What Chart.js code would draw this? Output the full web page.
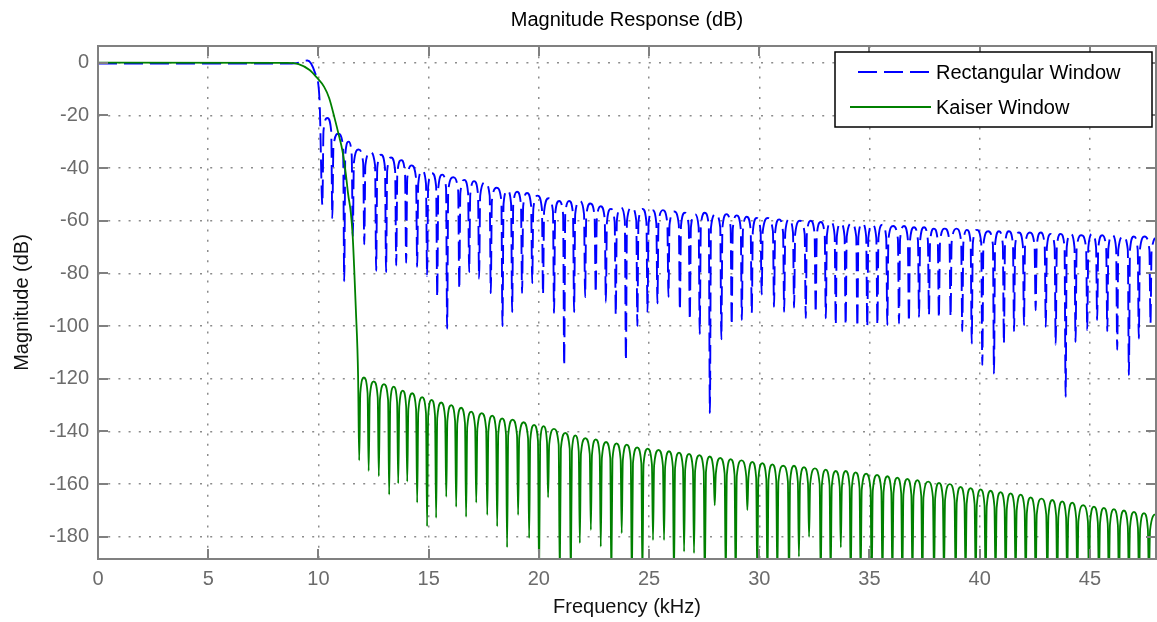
<!DOCTYPE html>
<html>
<head>
<meta charset="utf-8">
<title>Magnitude Response (dB)</title>
<script src="https://cdn.jsdelivr.net/npm/chart.js@4.4.1/dist/chart.umd.min.js"></script>
<style>
  html, body { margin: 0; padding: 0; background: #fff; }
  #wrap { width: 1157px; height: 622px; position: relative; }
</style>
</head>
<body>
<div id="wrap"><canvas id="chart"></canvas></div>
<script>
// magnitude response, rectangular vs kaiser window
const FONT = '"Liberation Sans", Arial, Helvetica, sans-serif';

const xTicks = [0, 5, 10, 15, 20, 25, 30, 35, 40, 45];
const yTicks = [0, -20, -40, -60, -80, -100, -120, -140, -160, -180];
const xMin = 0, xMax = 48;
const yMin = -188.4, yMax = 6.3;

// rectangular window: passband + start of transition (kHz, dB)
const rectPassFreq = [0, 8.5, 9.0, 9.5, 9.85, 10.05];
const rectPassDb = [-0.4, -0.4, -0.2, 0.8, -4, -14];

// rectangular window stopband: null positions, null depth, lobe level after each null
const rectNullFreq = [10.18, 10.63, 11.17, 11.56, 12.08, 12.62, 13.07, 13.53, 13.98, 14.48,
  14.93, 15.39, 15.84, 16.39, 16.84, 17.29, 17.82, 18.35, 18.79, 19.24,
  19.70, 20.19, 20.69, 21.15, 21.60, 22.10, 22.58, 23.04, 23.49, 23.95,
  24.47, 24.93, 25.38, 25.88, 26.40, 26.85, 27.30, 27.76, 28.28, 28.75,
  29.21, 29.66, 30.11, 30.67, 31.13, 31.58, 32.11, 32.56, 33.02, 33.47,
  33.92, 34.45, 34.90, 35.36, 35.81, 36.34, 36.79, 37.25, 37.70, 38.15,
  38.68, 39.21, 39.64, 40.12, 40.65, 41.10, 41.56, 42.01, 42.54, 43.00,
  43.45, 43.90, 44.35, 44.88, 45.33, 45.79, 46.24, 46.77, 47.22, 47.75];
const rectNullDb = [-54, -59, -83, -66, -69, -79, -79.5, -77, -76, -77.5,
  -81, -89, -101, -86, -79.5, -82, -87.5, -100, -94.7, -87.5,
  -83.7, -88, -95, -115, -94.7, -89, -87.5, -91, -95.8, -113,
  -100, -94.6, -91.4, -88.9, -94, -97.7, -103, -133, -105, -99.6,
  -97.7, -95, -88, -92.7, -94.6, -93, -97, -95, -97, -99.6,
  -99.6, -100.3, -100.3, -99.6, -99.6, -99, -98.4, -96.5, -95.8, -97,
  -96.5, -102, -106.6, -114.8, -118, -106.6, -102, -99.6, -94, -100.3,
  -107, -126.8, -106, -101.5, -97.7, -102, -109, -118.6, -104.7, -99];
const rectPeakDb = [-21, -27, -30, -33, -34, -35, -36, -37, -39, -41,
  -42, -42.5, -43.5, -44.5, -45, -45.5, -47.5, -48.5, -49, -49.5,
  -50.5, -51.5, -52.5, -52.5, -52.5, -53.5, -54.5, -55.5, -55, -55,
  -55.5, -56, -56, -56.5, -57, -57.5, -57, -57.5, -57.5, -58,
  -58.5, -59, -59, -59.5, -59.5, -60, -60, -60.5, -60.5, -61,
  -61, -61, -61.5, -61.5, -62, -62, -62.5, -62.5, -63, -63,
  -63, -63.5, -63.5, -64, -64, -64, -64.5, -64.5, -64.5, -65,
  -65, -65, -65.5, -65, -65.5, -65.5, -66, -66, -66, -66.5];

// kaiser window: passband + transition
const kaiserPassFreq = [0, 8.6, 9.1, 9.6, 9.9, 10.26, 10.49, 10.72, 10.94, 11.09, 11.24, 11.35, 11.47, 11.55, 11.62, 11.7, 11.8];
const kaiserPassDb = [0, -0.1, -0.6, -2.8, -5.4, -9.2, -13.5, -20.6, -28, -33.5, -42, -50, -57, -65, -77.5, -94, -119];

// kaiser window stopband
const kaiserNullFreq = [11.85, 12.28, 12.74, 13.21, 13.62, 14.03, 14.48, 14.93, 15.34, 15.80,
  16.25, 16.70, 17.16, 17.66, 18.11, 18.56, 19.06, 19.56, 20.01, 20.42,
  20.95, 21.45, 21.86, 22.36, 22.81, 23.29, 23.76, 24.22, 24.70, 25.18,
  25.68, 26.13, 26.59, 27.04, 27.53, 27.98, 28.48, 28.93, 29.46, 29.91,
  30.37, 30.82, 31.35, 31.80, 32.26, 32.79, 33.24, 33.70, 34.15, 34.60,
  35.10, 35.59, 36.04, 36.49, 36.95, 37.40, 37.93, 38.38, 38.91, 39.36,
  39.82, 40.27, 40.72, 41.18, 41.63, 42.09, 42.54, 43.07, 43.52, 43.97,
  44.43, 44.96, 45.41, 45.86, 46.32, 46.77, 47.23, 47.68];
const kaiserNullDb = [-151, -155, -157, -164, -159.7, -159, -167, -176, -172.8, -164.8,
  -168.6, -172.4, -167, -171.7, -176, -184, -171.7, -180.5, -196, -165,
  -196, -198, -182.4, -177.4, -183.7, -197, -178.6, -199, -196, -181.2,
  -181.2, -197, -185.6, -186.2, -200, -168, -197, -199, -169.8, -196,
  -198, -196, -199, -187.5, -180, -197, -196, -184, -198, -196,
  -199, -197, -196, -198, -196, -199, -197, -196, -198, -196,
  -197, -199, -196, -198, -196, -197, -199, -196, -198, -196,
  -197, -199, -196, -197, -198, -196, -197, -196];
const kaiserPeakDb = [-119.5, -121, -122, -123, -124.5, -125.5, -127, -128, -129, -130,
  -131, -132.5, -133, -134, -135, -135.5, -136.5, -137.5, -138, -139,
  -140.5, -141.5, -142.5, -143, -144, -144.5, -145, -146, -146.5, -147,
  -147.5, -148, -148.5, -149, -149.5, -150, -150.5, -151, -151.5, -152,
  -152.5, -153, -153, -153.5, -154, -154.5, -155, -155, -155.5, -156,
  -156.5, -157, -157.5, -158, -158.5, -159, -159.5, -160, -161, -161.5,
  -162, -162.5, -163, -163.5, -164, -165, -165.5, -166, -166.5, -167,
  -168, -168.5, -169, -169.5, -170, -170.5, -171, -171.5];

// polyline from the arrays: narrow null, lobe rising to its peak mid-way
function buildCurve(passF, passDb, nullF, nullDb, peakDb, sideDrop) {
    const pts = passF.map((f, i) => ({ x: f, y: passDb[i] }));
    const w = 0.05;
    nullF.forEach((f, i) => {
        const next = i + 1 < nullF.length ? nullF[i + 1] : xMax + 0.3;
        pts.push({ x: f, y: nullDb[i] });
        pts.push({ x: f + w, y: peakDb[i] - sideDrop });
        pts.push({ x: (f + next) / 2, y: peakDb[i] });
        pts.push({ x: next - w, y: peakDb[i] - sideDrop });
    });
    return pts;
}

const axesBox = {
    id: 'axesBox',
    afterDatasetsDraw(chart) {
        const { ctx, chartArea: a, scales: { x, y } } = chart;
        const tl = 10;
        ctx.save();
        ctx.strokeStyle = '#808080';
        ctx.lineWidth = 2;
        ctx.strokeRect(a.left, a.top, a.right - a.left, a.bottom - a.top);
        ctx.beginPath();
        xTicks.forEach(v => {
            const px = Math.round(x.getPixelForValue(v));
            ctx.moveTo(px, a.bottom); ctx.lineTo(px, a.bottom - tl);
            ctx.moveTo(px, a.top); ctx.lineTo(px, a.top + tl);
        });
        yTicks.forEach(v => {
            const py = Math.round(y.getPixelForValue(v));
            ctx.moveTo(a.left, py); ctx.lineTo(a.left + tl, py);
            ctx.moveTo(a.right, py); ctx.lineTo(a.right - tl, py);
        });
        ctx.stroke();
        ctx.restore();
    }
};

const legendBox = {
    id: 'legendBox',
    afterDraw(chart) {
        const { ctx, chartArea: a } = chart;
        const bx = a.right - 321, by = a.top + 6, bw = 317, bh = 75;
        ctx.save();
        ctx.fillStyle = '#fff';
        ctx.fillRect(bx, by, bw, bh);
        ctx.strokeStyle = '#000';
        ctx.lineWidth = 1.5;
        ctx.strokeRect(bx, by, bw, bh);
        chart.data.datasets.forEach((ds, i) => {
            const ly = by + 20 + i * 35;
            ctx.beginPath();
            ctx.strokeStyle = ds.borderColor;
            ctx.lineWidth = 2;
            ctx.setLineDash(ds.borderDash || []);
            ctx.moveTo(bx + (ds.borderDash ? 23 : 15), ly);
            ctx.lineTo(bx + 96, ly);
            ctx.stroke();
            ctx.setLineDash([]);
            ctx.fillStyle = '#000';
            ctx.font = '20px ' + FONT;
            ctx.textBaseline = 'middle';
            ctx.fillText(ds.label, bx + 101, ly + 1);
        });
        ctx.restore();
    }
};

const tickFont = { family: FONT, size: 20 };
const gridOpts = { color: '#8c8c8c', lineWidth: 1.5, drawTicks: false };
const borderOpts = { display: false, dash: [2, 8.2] };

new Chart(document.getElementById('chart'), {
    type: 'line',
    data: {
        datasets: [
            {
                label: 'Rectangular Window',
                data: buildCurve(rectPassFreq, rectPassDb, rectNullFreq, rectNullDb, rectPeakDb, 5),
                borderColor: '#0000ff',
                borderWidth: 1.9,
                borderDash: [19, 7],
                pointRadius: 0,
                cubicInterpolationMode: 'monotone',
                order: 2
            },
            {
                label: 'Kaiser Window',
                data: buildCurve(kaiserPassFreq, kaiserPassDb, kaiserNullFreq, kaiserNullDb, kaiserPeakDb, 6),
                borderColor: '#008000',
                borderWidth: 1.8,
                pointRadius: 0,
                cubicInterpolationMode: 'monotone',
                order: 1
            }
        ]
    },
    options: {
        responsive: true,
        maintainAspectRatio: false,
        animation: false,
        events: [],
        layout: { padding: { top: 0, right: 1, bottom: 0, left: 0 } },
        plugins: {
            legend: { display: false },
            tooltip: { enabled: false },
            title: {
                display: true,
                text: 'Magnitude Response (dB)',
                fullSize: false,
                color: '#000',
                font: { family: FONT, size: 20, weight: 'normal' },
                padding: { top: 8, bottom: 14 }
            }
        },
        scales: {
            x: {
                type: 'linear',
                min: xMin,
                max: xMax,
                afterFit: s => { s.height = 63; },
                afterBuildTicks: s => { s.ticks = xTicks.map(v => ({ value: v })); },
                ticks: { color: '#6b6b6b', font: tickFont, padding: 8, maxRotation: 0, autoSkip: false },
                grid: gridOpts,
                border: borderOpts,
                title: {
                    display: true,
                    text: 'Frequency (kHz)',
                    color: '#111',
                    font: { family: FONT, size: 20 },
                    padding: { top: 0, bottom: 3 }
                }
            },
            y: {
                type: 'linear',
                min: yMin,
                max: yMax,
                afterFit: s => { s.width = 98; },
                afterBuildTicks: s => { s.ticks = yTicks.map(v => ({ value: v })); },
                ticks: { color: '#6b6b6b', font: tickFont, padding: 9, autoSkip: false },
                grid: gridOpts,
                border: borderOpts,
                title: {
                    display: true,
                    text: 'Magnitude (dB)',
                    color: '#111',
                    font: { family: FONT, size: 20 },
                    padding: { top: 10, bottom: 0 }
                }
            }
        }
    },
    plugins: [axesBox, legendBox]
});
</script>
</body>
</html>
